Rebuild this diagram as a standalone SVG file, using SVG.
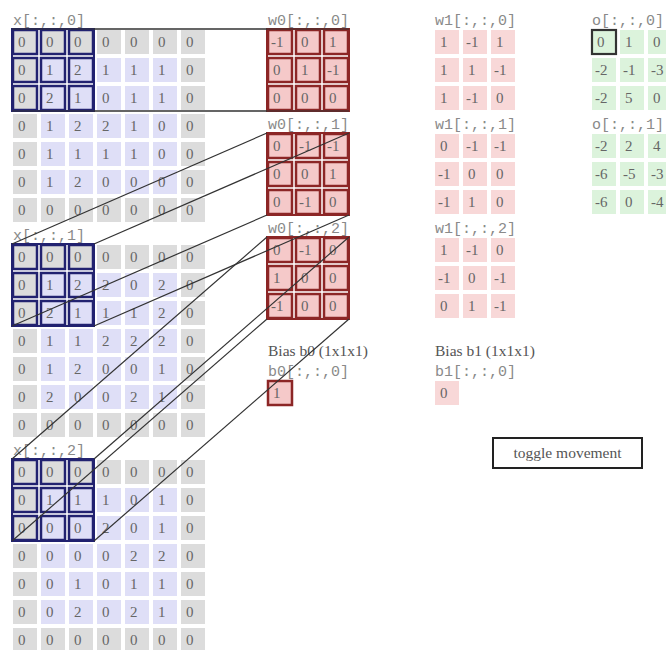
<svg xmlns="http://www.w3.org/2000/svg" width="666" height="650" viewBox="0 0 666 650">
<style>
.lbl{font-family:"Liberation Mono","DejaVu Sans Mono",monospace;font-size:15px;fill:#8a8a8a}
.n{font-family:"Liberation Serif","Times New Roman",serif;font-size:15px;fill:#666}
.hd{font-family:"Liberation Serif","Times New Roman",serif;font-size:15.5px;fill:#555}
.hl{fill:none;stroke:#222270;stroke-width:2.5}
.wc{fill:#f5c9c9;stroke:#8c2626;stroke-width:2.5}
.wbox{fill:none;stroke:#8c2626;stroke-width:2}
.xbox{fill:none;stroke:#222270;stroke-width:2}
.conn line{stroke:#333;stroke-width:1.2}
</style>
<defs>
<pattern id="gp" width="28" height="28" patternUnits="userSpaceOnUse"><rect width="24" height="24" fill="#dcdcdc"/></pattern>
<pattern id="bp" width="28" height="28" patternUnits="userSpaceOnUse"><rect width="24" height="24" fill="#dfdff7"/></pattern>
<pattern id="pp" width="28" height="28" patternUnits="userSpaceOnUse"><rect width="24" height="24" fill="#f8d8d8"/></pattern>
<pattern id="gr" width="28" height="28" patternUnits="userSpaceOnUse"><rect width="24" height="24" fill="#dcf3dc"/></pattern>
</defs>
<rect width="666" height="650" fill="#fff"/>

<g id="x0">
<text class="lbl" x="13" y="25">x[:,:,0]</text>
<g transform="translate(13,30)">
<rect width="192" height="192" fill="url(#gp)"/>
<rect x="28" y="28" width="136" height="136" fill="url(#bp)"/>
<g class="n">
<text x="5" y="17">0</text><text x="33" y="17">0</text><text x="61" y="17">0</text><text x="89" y="17">0</text><text x="117" y="17">0</text><text x="145" y="17">0</text><text x="173" y="17">0</text>
<text x="5" y="45">0</text><text x="33" y="45">1</text><text x="61" y="45">2</text><text x="89" y="45">1</text><text x="117" y="45">1</text><text x="145" y="45">1</text><text x="173" y="45">0</text>
<text x="5" y="73">0</text><text x="33" y="73">2</text><text x="61" y="73">1</text><text x="89" y="73">0</text><text x="117" y="73">1</text><text x="145" y="73">1</text><text x="173" y="73">0</text>
<text x="5" y="101">0</text><text x="33" y="101">1</text><text x="61" y="101">2</text><text x="89" y="101">2</text><text x="117" y="101">1</text><text x="145" y="101">0</text><text x="173" y="101">0</text>
<text x="5" y="129">0</text><text x="33" y="129">1</text><text x="61" y="129">1</text><text x="89" y="129">1</text><text x="117" y="129">1</text><text x="145" y="129">0</text><text x="173" y="129">0</text>
<text x="5" y="157">0</text><text x="33" y="157">1</text><text x="61" y="157">2</text><text x="89" y="157">0</text><text x="117" y="157">0</text><text x="145" y="157">0</text><text x="173" y="157">0</text>
<text x="5" y="185">0</text><text x="33" y="185">0</text><text x="61" y="185">0</text><text x="89" y="185">0</text><text x="117" y="185">0</text><text x="145" y="185">0</text><text x="173" y="185">0</text>
</g>
<g class="hl">
<rect x="0" y="0" width="24" height="24"/><rect x="28" y="0" width="24" height="24"/><rect x="56" y="0" width="24" height="24"/>
<rect x="0" y="28" width="24" height="24"/><rect x="28" y="28" width="24" height="24"/><rect x="56" y="28" width="24" height="24"/>
<rect x="0" y="56" width="24" height="24"/><rect x="28" y="56" width="24" height="24"/><rect x="56" y="56" width="24" height="24"/>
</g>
<rect class="xbox" x="-1" y="-1" width="82" height="82"/>
</g>
</g>

<g id="x1">
<text class="lbl" x="13" y="240">x[:,:,1]</text>
<g transform="translate(13,245)">
<rect width="192" height="192" fill="url(#gp)"/>
<rect x="28" y="28" width="136" height="136" fill="url(#bp)"/>
<g class="n">
<text x="5" y="17">0</text><text x="33" y="17">0</text><text x="61" y="17">0</text><text x="89" y="17">0</text><text x="117" y="17">0</text><text x="145" y="17">0</text><text x="173" y="17">0</text>
<text x="5" y="45">0</text><text x="33" y="45">1</text><text x="61" y="45">2</text><text x="89" y="45">2</text><text x="117" y="45">0</text><text x="145" y="45">2</text><text x="173" y="45">0</text>
<text x="5" y="73">0</text><text x="33" y="73">2</text><text x="61" y="73">1</text><text x="89" y="73">1</text><text x="117" y="73">1</text><text x="145" y="73">2</text><text x="173" y="73">0</text>
<text x="5" y="101">0</text><text x="33" y="101">1</text><text x="61" y="101">1</text><text x="89" y="101">2</text><text x="117" y="101">2</text><text x="145" y="101">2</text><text x="173" y="101">0</text>
<text x="5" y="129">0</text><text x="33" y="129">1</text><text x="61" y="129">2</text><text x="89" y="129">0</text><text x="117" y="129">0</text><text x="145" y="129">1</text><text x="173" y="129">0</text>
<text x="5" y="157">0</text><text x="33" y="157">2</text><text x="61" y="157">0</text><text x="89" y="157">0</text><text x="117" y="157">2</text><text x="145" y="157">1</text><text x="173" y="157">0</text>
<text x="5" y="185">0</text><text x="33" y="185">0</text><text x="61" y="185">0</text><text x="89" y="185">0</text><text x="117" y="185">0</text><text x="145" y="185">0</text><text x="173" y="185">0</text>
</g>
<g class="hl">
<rect x="0" y="0" width="24" height="24"/><rect x="28" y="0" width="24" height="24"/><rect x="56" y="0" width="24" height="24"/>
<rect x="0" y="28" width="24" height="24"/><rect x="28" y="28" width="24" height="24"/><rect x="56" y="28" width="24" height="24"/>
<rect x="0" y="56" width="24" height="24"/><rect x="28" y="56" width="24" height="24"/><rect x="56" y="56" width="24" height="24"/>
</g>
<rect class="xbox" x="-1" y="-1" width="82" height="82"/>
</g>
</g>

<g id="x2">
<text class="lbl" x="13" y="455">x[:,:,2]</text>
<g transform="translate(13,460)">
<rect width="192" height="192" fill="url(#gp)"/>
<rect x="28" y="28" width="136" height="136" fill="url(#bp)"/>
<g class="n">
<text x="5" y="17">0</text><text x="33" y="17">0</text><text x="61" y="17">0</text><text x="89" y="17">0</text><text x="117" y="17">0</text><text x="145" y="17">0</text><text x="173" y="17">0</text>
<text x="5" y="45">0</text><text x="33" y="45">1</text><text x="61" y="45">1</text><text x="89" y="45">1</text><text x="117" y="45">0</text><text x="145" y="45">1</text><text x="173" y="45">0</text>
<text x="5" y="73">0</text><text x="33" y="73">0</text><text x="61" y="73">0</text><text x="89" y="73">2</text><text x="117" y="73">0</text><text x="145" y="73">1</text><text x="173" y="73">0</text>
<text x="5" y="101">0</text><text x="33" y="101">0</text><text x="61" y="101">0</text><text x="89" y="101">0</text><text x="117" y="101">2</text><text x="145" y="101">2</text><text x="173" y="101">0</text>
<text x="5" y="129">0</text><text x="33" y="129">0</text><text x="61" y="129">1</text><text x="89" y="129">0</text><text x="117" y="129">1</text><text x="145" y="129">1</text><text x="173" y="129">0</text>
<text x="5" y="157">0</text><text x="33" y="157">0</text><text x="61" y="157">2</text><text x="89" y="157">0</text><text x="117" y="157">2</text><text x="145" y="157">1</text><text x="173" y="157">0</text>
<text x="5" y="185">0</text><text x="33" y="185">0</text><text x="61" y="185">0</text><text x="89" y="185">0</text><text x="117" y="185">0</text><text x="145" y="185">0</text><text x="173" y="185">0</text>
</g>
<g class="hl">
<rect x="0" y="0" width="24" height="24"/><rect x="28" y="0" width="24" height="24"/><rect x="56" y="0" width="24" height="24"/>
<rect x="0" y="28" width="24" height="24"/><rect x="28" y="28" width="24" height="24"/><rect x="56" y="28" width="24" height="24"/>
<rect x="0" y="56" width="24" height="24"/><rect x="28" y="56" width="24" height="24"/><rect x="56" y="56" width="24" height="24"/>
</g>
<rect class="xbox" x="-1" y="-1" width="82" height="82"/>
</g>
</g>

<g id="w0_0">
<text class="lbl" x="268" y="25">w0[:,:,0]</text>
<g transform="translate(268,30)">
<g class="wc">
<rect x="0" y="0" width="24" height="24"/><rect x="28" y="0" width="24" height="24"/><rect x="56" y="0" width="24" height="24"/>
<rect x="0" y="28" width="24" height="24"/><rect x="28" y="28" width="24" height="24"/><rect x="56" y="28" width="24" height="24"/>
<rect x="0" y="56" width="24" height="24"/><rect x="28" y="56" width="24" height="24"/><rect x="56" y="56" width="24" height="24"/>
</g>
<rect class="wbox" x="-1" y="-1" width="82" height="82"/>
<g class="n">
<text x="3" y="17">-1</text><text x="33" y="17">0</text><text x="61" y="17">1</text>
<text x="5" y="45">0</text><text x="33" y="45">1</text><text x="59" y="45">-1</text>
<text x="5" y="73">0</text><text x="33" y="73">0</text><text x="61" y="73">0</text>
</g>
</g>
</g>

<g id="w0_1">
<text class="lbl" x="268" y="129">w0[:,:,1]</text>
<g transform="translate(268,134)">
<g class="wc">
<rect x="0" y="0" width="24" height="24"/><rect x="28" y="0" width="24" height="24"/><rect x="56" y="0" width="24" height="24"/>
<rect x="0" y="28" width="24" height="24"/><rect x="28" y="28" width="24" height="24"/><rect x="56" y="28" width="24" height="24"/>
<rect x="0" y="56" width="24" height="24"/><rect x="28" y="56" width="24" height="24"/><rect x="56" y="56" width="24" height="24"/>
</g>
<rect class="wbox" x="-1" y="-1" width="82" height="82"/>
<g class="n">
<text x="5" y="17">0</text><text x="31" y="17">-1</text><text x="59" y="17">-1</text>
<text x="5" y="45">0</text><text x="33" y="45">0</text><text x="61" y="45">1</text>
<text x="5" y="73">0</text><text x="31" y="73">-1</text><text x="61" y="73">0</text>
</g>
</g>
</g>

<g id="w0_2">
<text class="lbl" x="268" y="233">w0[:,:,2]</text>
<g transform="translate(268,238)">
<g class="wc">
<rect x="0" y="0" width="24" height="24"/><rect x="28" y="0" width="24" height="24"/><rect x="56" y="0" width="24" height="24"/>
<rect x="0" y="28" width="24" height="24"/><rect x="28" y="28" width="24" height="24"/><rect x="56" y="28" width="24" height="24"/>
<rect x="0" y="56" width="24" height="24"/><rect x="28" y="56" width="24" height="24"/><rect x="56" y="56" width="24" height="24"/>
</g>
<rect class="wbox" x="-1" y="-1" width="82" height="82"/>
<g class="n">
<text x="5" y="17">0</text><text x="31" y="17">-1</text><text x="61" y="17">0</text>
<text x="5" y="45">1</text><text x="33" y="45">0</text><text x="61" y="45">0</text>
<text x="3" y="73">-1</text><text x="33" y="73">0</text><text x="61" y="73">0</text>
</g>
</g>
</g>

<g id="b0">
<text class="hd" x="268" y="356">Bias b0 (1x1x1)</text>
<text class="lbl" x="268" y="376">b0[:,:,0]</text>
<rect class="wc" x="268" y="381" width="24" height="24"/>
<text class="n" x="273" y="398">1</text>
</g>

<g id="w1_0">
<text class="lbl" x="435" y="25">w1[:,:,0]</text>
<g transform="translate(435,30)">
<rect width="80" height="80" fill="url(#pp)"/>
<g class="n">
<text x="5" y="17">1</text><text x="31" y="17">-1</text><text x="61" y="17">1</text>
<text x="5" y="45">1</text><text x="33" y="45">1</text><text x="59" y="45">-1</text>
<text x="5" y="73">1</text><text x="31" y="73">-1</text><text x="61" y="73">0</text>
</g>
</g>
</g>

<g id="w1_1">
<text class="lbl" x="435" y="129">w1[:,:,1]</text>
<g transform="translate(435,134)">
<rect width="80" height="80" fill="url(#pp)"/>
<g class="n">
<text x="5" y="17">0</text><text x="31" y="17">-1</text><text x="59" y="17">-1</text>
<text x="3" y="45">-1</text><text x="33" y="45">0</text><text x="61" y="45">0</text>
<text x="3" y="73">-1</text><text x="33" y="73">1</text><text x="61" y="73">0</text>
</g>
</g>
</g>

<g id="w1_2">
<text class="lbl" x="435" y="233">w1[:,:,2]</text>
<g transform="translate(435,238)">
<rect width="80" height="80" fill="url(#pp)"/>
<g class="n">
<text x="5" y="17">1</text><text x="31" y="17">-1</text><text x="61" y="17">0</text>
<text x="3" y="45">-1</text><text x="33" y="45">0</text><text x="59" y="45">-1</text>
<text x="5" y="73">0</text><text x="33" y="73">1</text><text x="59" y="73">-1</text>
</g>
</g>
</g>

<g id="b1">
<text class="hd" x="435" y="356">Bias b1 (1x1x1)</text>
<text class="lbl" x="435" y="376">b1[:,:,0]</text>
<rect x="435" y="381" width="24" height="24" fill="#f8d8d8"/>
<text class="n" x="440" y="398">0</text>
</g>

<g id="o0">
<text class="lbl" x="592" y="25">o[:,:,0]</text>
<g transform="translate(592,30)">
<rect width="80" height="80" fill="url(#gr)"/>
<rect x="0" y="0" width="24" height="24" fill="none" stroke="#333" stroke-width="2.2"/>
<g class="n">
<text x="5" y="17">0</text><text x="33" y="17">1</text><text x="61" y="17">0</text>
<text x="3" y="45">-2</text><text x="31" y="45">-1</text><text x="59" y="45">-3</text>
<text x="3" y="73">-2</text><text x="33" y="73">5</text><text x="61" y="73">0</text>
</g>
</g>
</g>

<g id="o1">
<text class="lbl" x="592" y="129">o[:,:,1]</text>
<g transform="translate(592,134)">
<rect width="80" height="80" fill="url(#gr)"/>
<g class="n">
<text x="3" y="17">-2</text><text x="33" y="17">2</text><text x="61" y="17">4</text>
<text x="3" y="45">-6</text><text x="31" y="45">-5</text><text x="59" y="45">-3</text>
<text x="3" y="73">-6</text><text x="33" y="73">0</text><text x="59" y="73">-4</text>
</g>
</g>
</g>

<g id="toggle">
<rect x="493" y="438" width="149" height="30" fill="#fff" stroke="#222" stroke-width="2"/>
<text class="hd" x="567.5" y="458" text-anchor="middle" fill="#444">toggle movement</text>
</g>

<g id="connectors" class="conn">
<line x1="12" y1="29" x2="267" y2="29"/>
<line x1="94" y1="29" x2="349" y2="29"/>
<line x1="12" y1="111" x2="267" y2="111"/>
<line x1="94" y1="111" x2="349" y2="111"/>
<line x1="12" y1="244" x2="267" y2="133"/>
<line x1="94" y1="244" x2="349" y2="133"/>
<line x1="12" y1="326" x2="267" y2="215"/>
<line x1="94" y1="326" x2="349" y2="215"/>
<line x1="12" y1="459" x2="267" y2="237"/>
<line x1="94" y1="459" x2="349" y2="237"/>
<line x1="12" y1="541" x2="267" y2="319"/>
<line x1="94" y1="541" x2="349" y2="319"/>
</g>
</svg>
